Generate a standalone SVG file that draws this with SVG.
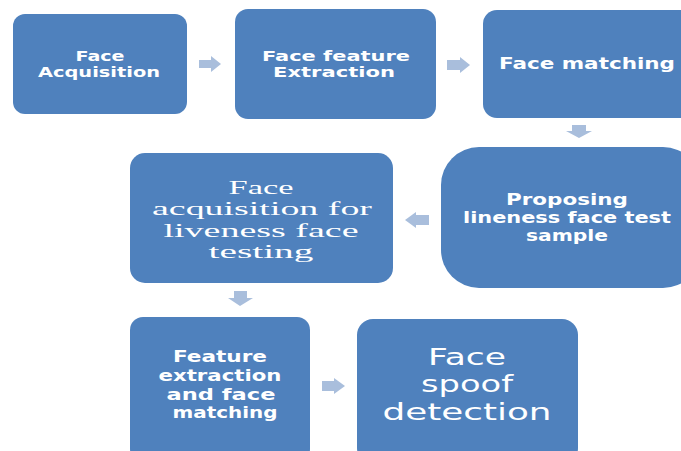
<svg xmlns="http://www.w3.org/2000/svg" width="681" height="451" viewBox="0 0 681 451">
<style>
.box{fill:#4F81BD;}
.arr{fill:#A9BEDC;}
.t{fill:#FFFFFF;font-family:"DejaVu Sans","Liberation Sans",sans-serif;font-weight:bold;text-anchor:middle;}
.s{fill:#FFFFFF;font-family:"Liberation Serif","DejaVu Serif",serif;text-anchor:middle;}
.r{fill:#FFFFFF;font-family:"DejaVu Sans","Liberation Sans",sans-serif;text-anchor:middle;}
</style>
<rect width="681" height="451" fill="#FFFFFF"/>
<g id="connectors">
<path class="arr" d="M199,60 H211 V56 L221,64 L211,72 V68 H199 Z"/>
<path class="arr" d="M447,60 H460 V57 L470,65 L460,73 V70 H447 Z"/>
<path class="arr" d="M572,125 H586 V131 H592 L579,138 L566,131 H572 Z"/>
<path class="arr" d="M429,215 H416 V212 L405,220 L416,228 V225 H429 Z"/>
<path class="arr" d="M234,291 H247 V298 H253 L240,306 L228,298 H234 Z"/>
<path class="arr" d="M322,381 H334 V378 L345,386 L334,394 V391 H322 Z"/>
</g>
<g id="n1">
<rect class="box" x="13" y="14" width="174" height="100" rx="12"/>
<text class="t" font-size="13.5" x="100" y="61" textLength="49" lengthAdjust="spacingAndGlyphs">Face</text>
<text class="t" font-size="13.5" x="99" y="77" textLength="122" lengthAdjust="spacingAndGlyphs">Acquisition</text>
</g>
<g id="n2">
<rect class="box" x="235" y="9" width="201" height="110" rx="13"/>
<text class="t" font-size="14" x="336" y="61" textLength="148" lengthAdjust="spacingAndGlyphs">Face feature</text>
<text class="t" font-size="14" x="334" y="77" textLength="122" lengthAdjust="spacingAndGlyphs">Extraction</text>
</g>
<g id="n3">
<rect class="box" x="483" y="10" width="215" height="108" rx="14"/>
<text class="t" font-size="16" x="587" y="69" textLength="176" lengthAdjust="spacingAndGlyphs">Face matching</text>
</g>
<g id="n4">
<rect class="box" x="441" y="147" width="260" height="141" rx="38"/>
<text class="t" font-size="15.5" x="567" y="205" textLength="122" lengthAdjust="spacingAndGlyphs">Proposing</text>
<text class="t" font-size="15.5" x="567" y="223" textLength="208" lengthAdjust="spacingAndGlyphs">lineness face test</text>
<text class="t" font-size="15.5" x="567" y="241" textLength="82" lengthAdjust="spacingAndGlyphs">sample</text>
</g>
<g id="n5">
<rect class="box" x="130" y="153" width="263" height="130" rx="15"/>
<text class="s" font-size="18.5" x="261" y="194" textLength="65" lengthAdjust="spacingAndGlyphs">Face</text>
<text class="s" font-size="18.5" x="262" y="215" textLength="220" lengthAdjust="spacingAndGlyphs">acquisition for</text>
<text class="s" font-size="18.5" x="261" y="236.5" textLength="195" lengthAdjust="spacingAndGlyphs">liveness face</text>
<text class="s" font-size="18.5" x="261" y="258" textLength="105" lengthAdjust="spacingAndGlyphs">testing</text>
</g>
<g id="n6">
<rect class="box" x="130" y="317" width="180" height="145" rx="13"/>
<text class="t" font-size="15" x="220" y="362" textLength="94" lengthAdjust="spacingAndGlyphs">Feature</text>
<text class="t" font-size="15" x="220" y="381" textLength="123" lengthAdjust="spacingAndGlyphs">extraction</text>
<text class="t" font-size="15" x="221" y="400" textLength="109" lengthAdjust="spacingAndGlyphs">and  face</text>
<text class="t" font-size="15" x="225" y="418" textLength="105" lengthAdjust="spacingAndGlyphs">matching</text>
</g>
<g id="n7">
<rect class="box" x="357" y="319" width="221" height="145" rx="16"/>
<text class="r" font-size="23" x="467" y="365" textLength="78" lengthAdjust="spacingAndGlyphs">Face</text>
<text class="r" font-size="23" x="467" y="392" textLength="92" lengthAdjust="spacingAndGlyphs">spoof</text>
<text class="r" font-size="23" x="467" y="420" textLength="169" lengthAdjust="spacingAndGlyphs">detection</text>
</g>
</svg>
